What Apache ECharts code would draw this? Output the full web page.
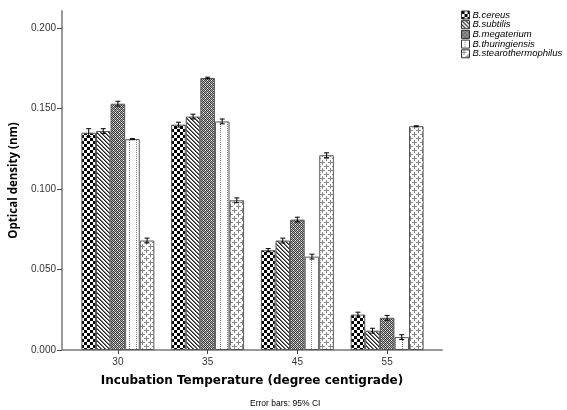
<!DOCTYPE html>
<html><head><meta charset="utf-8">
<script src="https://cdn.jsdelivr.net/npm/echarts@6/dist/echarts.min.js"></script>
<style>html,body{margin:0;padding:0;background:#fff}#c{width:567px;height:410px}</style>
</head><body><div id="c"></div>
<script>
const categories = ['30', '35', '45', '55'];
const seriesNames = ['B.cereus', 'B.subtilis', 'B.megaterium', 'B.thuringiensis', 'B.stearothermophilus'];
const cereus = [0.135, 0.140, 0.062, 0.022];
const subtilis = [0.136, 0.145, 0.068, 0.012];
const megaterium = [0.153, 0.169, 0.081, 0.020];
const thuringiensis = [0.131, 0.142, 0.058, 0.008];
const stearo = [0.068, 0.093, 0.121, 0.139];
const errCereus = [0.0025, 0.0015, 0.001, 0.0015];
const errSubtilis = [0.0015, 0.0015, 0.0015, 0.0015];
const errMegaterium = [0.0015, 0.0005, 0.0015, 0.0015];
const errThuringiensis = [0.0003, 0.0015, 0.0015, 0.0015];
const errStearo = [0.0015, 0.0015, 0.0015, 0.0003];
const yTicks = [0, 0.05, 0.1, 0.15, 0.2];

function pat(w, h, draw) {
  const c = document.createElement('canvas'); c.width = w; c.height = h;
  const x = c.getContext('2d'); x.fillStyle = '#fff'; x.fillRect(0, 0, w, h); draw(x);
  return { image: c, repeat: 'repeat' };
}
const patterns = [
  pat(6, 6, x => { x.fillStyle = '#000'; x.fillRect(0, 0, 3, 3); x.fillRect(3, 3, 3, 3); }),
  pat(4, 4, x => { for (let i = 0; i < 4; i++) { x.fillStyle = '#222'; x.fillRect(i, i, 1, 1); x.fillStyle = '#777'; x.fillRect((i + 1) % 4, i, 1, 1); } }),
  pat(4, 4, x => { for (let i = 0; i < 4; i++) for (let j = 0; j < 4; j++) { x.fillStyle = ((i + j) % 2 === 0) ? '#3a3a3a' : '#b5b5b5'; x.fillRect(i, j, 1, 1); } x.fillStyle = '#fff'; x.fillRect(1, 2, 1, 1); x.fillRect(3, 0, 1, 1); }),
  pat(7, 2, x => { x.fillStyle = '#777'; x.fillRect(3, 0, 1, 1); }),
  pat(8, 8, x => { x.fillStyle = '#8a8a8a'; x.fillRect(0, 2, 5, 1); x.fillRect(2, 0, 1, 5); x.fillRect(4, 6, 4, 1); x.fillRect(0, 6, 1, 1); x.fillRect(6, 4, 1, 4); x.fillRect(6, 0, 1, 1); })
];
const values = [cereus, subtilis, megaterium, thuringiensis, stearo];
const errs = [errCereus, errSubtilis, errMegaterium, errThuringiensis, errStearo];
const GAP = 0.187;

const series = [];
values.forEach((vals, k) => {
  series.push({
    name: seriesNames[k], type: 'bar', xAxisIndex: 1, yAxisIndex: 1,
    data: vals, barGap: '0%', barCategoryGap: (GAP * 100) + '%',
    itemStyle: { color: patterns[k], borderColor: '#555', borderWidth: 1 },
    emphasis: { disabled: true }
  });
});
values.forEach((vals, k) => {
  series.push({
    type: 'custom', xAxisIndex: 1, yAxisIndex: 1, z: 5, silent: true,
    data: vals.map((v, i) => [i, v, errs[k][i]]),
    renderItem: (params, api) => {
      const ci = api.value(0), v = api.value(1), e = api.value(2);
      const catW = api.size([1, 0])[0];
      const bw = catW * (1 - GAP) / 5;
      const cx = api.coord([ci, v])[0] + (k - 2) * bw;
      const t = api.coord([ci, v + e])[1], b = api.coord([ci, v - e])[1];
      const st = { stroke: '#000', lineWidth: 1 };
      return { type: 'group', children: [
        { type: 'line', shape: { x1: cx, y1: t, x2: cx, y2: b }, style: st },
        { type: 'line', shape: { x1: cx - 2.5, y1: t, x2: cx + 2.5, y2: t }, style: st },
        { type: 'line', shape: { x1: cx - 2.5, y1: b, x2: cx + 2.5, y2: b }, style: st }
      ]};
    }
  });
});

const chart = echarts.init(document.getElementById('c'), null, { renderer: 'canvas' });
const FONT = 'Liberation Sans, Arial, sans-serif';
chart.setOption({
  animation: false,
  grid: [
    { left: 62, width: 380, top: 11, height: 339 },
    { left: 73, width: 359, top: 11, height: 339 }
  ],
  legend: {
    orient: 'vertical', left: 456, top: 5, itemWidth: 8, itemHeight: 8, itemGap: -0.3,
    icon: 'rect', data: seriesNames,
    textStyle: { fontFamily: FONT, fontSize: 9.5, lineHeight: 9, fontStyle: 'italic', color: '#000', padding: [0, 0, 0, -2] },
    itemStyle: { borderColor: '#333', borderWidth: 1 }
  },
  xAxis: [
    { type: 'value', gridIndex: 0, min: 0, max: 1,
      axisLine: { show: true, lineStyle: { color: '#999', width: 2 } },
      axisTick: { show: false }, axisLabel: { show: false }, splitLine: { show: false },
      name: 'Incubation Temperature (degree centigrade)', nameLocation: 'middle', nameGap: 25,
      nameTextStyle: { fontFamily: 'DejaVu Sans, sans-serif', fontSize: 12, fontWeight: 'bold', color: '#000' } },
    { type: 'category', gridIndex: 1, data: categories,
      axisLine: { show: false },
      axisTick: { show: true, alignWithLabel: true, length: 4, lineStyle: { color: '#444' } },
      axisLabel: { fontFamily: FONT, fontSize: 10, color: '#333', margin: 7 } }
  ],
  yAxis: [
    { type: 'value', gridIndex: 0, min: 0, max: 0.2106,
      axisLine: { show: true, lineStyle: { color: '#999', width: 2 } },
      axisTick: { show: true, length: 5, customValues: yTicks, lineStyle: { color: '#444' } },
      axisLabel: { customValues: yTicks, formatter: v => v.toFixed(3), fontFamily: FONT, fontSize: 10, color: '#333', margin: 6 },
      splitLine: { show: false },
      name: 'Optical density (nm)', nameLocation: 'middle', nameGap: 33,
      nameTextStyle: { fontFamily: 'Open Sans, sans-serif', fontSize: 11.5, fontWeight: 'bold', color: '#000' } },
    { type: 'value', gridIndex: 1, min: 0, max: 0.2106, show: false }
  ],
  graphic: [
    { type: 'text', left: 250, top: 399, style: { text: 'Error bars: 95% CI', fontFamily: FONT, fontSize: 8.5, fill: '#000' } }
  ],
  series: series
});
</script>
</body></html>
